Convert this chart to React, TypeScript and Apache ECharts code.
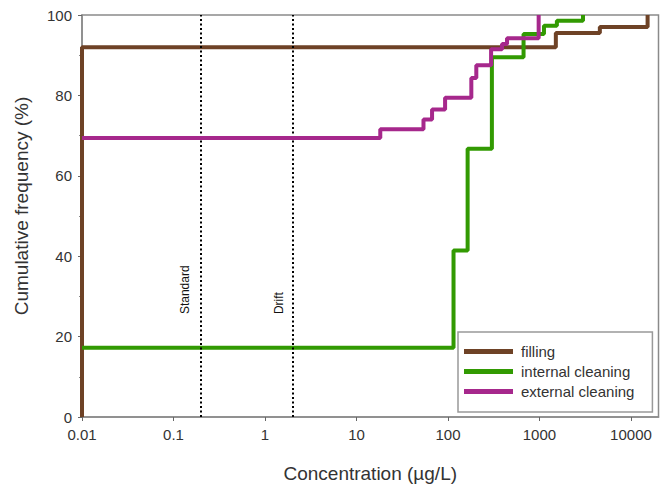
import React, { useEffect, useRef } from "react";
import * as echarts from "echarts";

// Cumulative frequency step curves: [concentration (µg/L), cumulative %]
const fillingData: [number, number][] = [
  [0.01, 0], [0.01, 92], [1510, 95.5], [4570, 97], [15200, 100],
];
const internalData: [number, number][] = [
  [0.01, 17.2], [115, 41.4], [164, 66.7], [302, 89.5], [670, 95.3],
  [1120, 97.3], [1550, 98.6], [2990, 100],
];
const externalData: [number, number][] = [
  [0.01, 69.4], [18.2, 71.6], [54, 74], [67, 76.5], [93, 79.4], [180, 84.3],
  [204, 87.5], [296, 91.5], [390, 92.8], [442, 94.2], [980, 100],
];
const seriesNames = ["filling", "internal cleaning", "external cleaning"];
const seriesColors = ["#6E4226", "#329A02", "#A6288C"];
const refLines = [
  { name: "Standard", value: 0.2 },
  { name: "Drift", value: 2 },
];
const REF_LABEL_Y = 25.6;
const X_MIN = 0.01;
const X_MAX = 20000;
const Y_MAX = 100;
const Y_INTERVAL = 20;

const fmt = (v: number) => String(Number(v.toPrecision(6)));
const FONT = "Liberation Sans, Arial, sans-serif";

export default function App() {
  const ref = useRef<HTMLDivElement>(null);
  useEffect(() => {
    if (!ref.current) return;
    const chart = echarts.init(ref.current, null, { renderer: "svg" });
    const datasets = [fillingData, internalData, externalData];
    const option: any = {
      animation: false,
      backgroundColor: "#fff",
      grid: {
        left: 82,
        right: 8.5,
        top: 15,
        bottom: 69.5,
        show: true,
        borderColor: "#8a8a8a",
        borderWidth: 1.5,
        backgroundColor: "transparent",
      },
      xAxis: {
        type: "log",
        logBase: 10,
        min: X_MIN,
        max: X_MAX,
        name: "Concentration (µg/L)",
        nameLocation: "middle",
        nameGap: 47,
        nameTextStyle: { fontSize: 19, color: "#333", fontFamily: FONT },
        axisLine: { lineStyle: { color: "#8a8a8a", width: 1.5 } },
        axisTick: { show: true, inside: false, length: 4, lineStyle: { color: "#666" } },
        axisLabel: {
          fontSize: 15,
          color: "#333",
          fontFamily: FONT,
          margin: 10,
          showMaxLabel: false,
          formatter: (v: number) => fmt(v),
        },
        splitLine: { show: false },
        minorTick: { show: false },
      },
      yAxis: {
        type: "value",
        min: 0,
        max: Y_MAX,
        interval: Y_INTERVAL,
        name: "Cumulative frequency (%)",
        nameLocation: "middle",
        nameGap: 51,
        nameTextStyle: { fontSize: 19, color: "#333", fontFamily: FONT, padding: [0, 0, 0, 20] },
        axisLine: { show: true, lineStyle: { color: "#8a8a8a", width: 1.5 } },
        axisTick: { show: true, length: 4, lineStyle: { color: "#666" } },
        minorTick: { show: true, splitNumber: 2, length: 3, lineStyle: { color: "#888" } },
        axisLabel: { fontSize: 15, color: "#333", fontFamily: FONT, margin: 10 },
        splitLine: { show: false },
      },
      legend: {
        orient: "vertical",
        left: 458,
        top: 332,
        data: seriesNames,
        icon: "rect",
        itemWidth: 49,
        itemHeight: 5,
        itemGap: 5,
        padding: [12, 18, 13, 6],
        borderColor: "#999",
        borderWidth: 1.5,
        backgroundColor: "#fff",
        textStyle: { fontSize: 15, color: "#333", fontFamily: FONT, padding: [0, 0, 0, 3] },
      },
      series: [
        ...seriesNames.map((name, i) => ({
          name,
          type: "line",
          step: "end",
          showSymbol: false,
          symbol: "none",
          data: datasets[i],
          color: seriesColors[i],
          lineStyle: { color: seriesColors[i], width: 4 },
          z: 3 + i,
        })),
        {
          name: "refs",
          type: "line",
          data: [],
          silent: true,
          z: 2,
          markLine: {
            silent: true,
            symbol: ["none", "none"],
            label: { show: false },
            lineStyle: { color: "#000", type: [2, 2.5], width: 2 },
            data: refLines.map((r) => ({ xAxis: r.value })),
          },
        },
      ],
    };
    chart.setOption(option);
    const offsets = [-16, -14];
    const graphics = refLines.map((r, i) => {
      const p = chart.convertToPixel({ xAxisIndex: 0, yAxisIndex: 0 }, [r.value, REF_LABEL_Y]) as number[];
      return {
        type: "text",
        x: p[0] + offsets[i],
        y: p[1],
        rotation: Math.PI / 2,
        z: 10,
        style: {
          text: r.name,
          fontSize: 12,
          fill: "#111",
          fontFamily: FONT,
          textAlign: "left",
          textVerticalAlign: "middle",
        },
      };
    });
    chart.setOption({ graphic: graphics });
    return () => chart.dispose();
  }, []);
  return (
    <div
      ref={ref}
      style={{ position: "fixed", left: 0, top: 0, width: 667, height: 488 }}
    />
  );
}
